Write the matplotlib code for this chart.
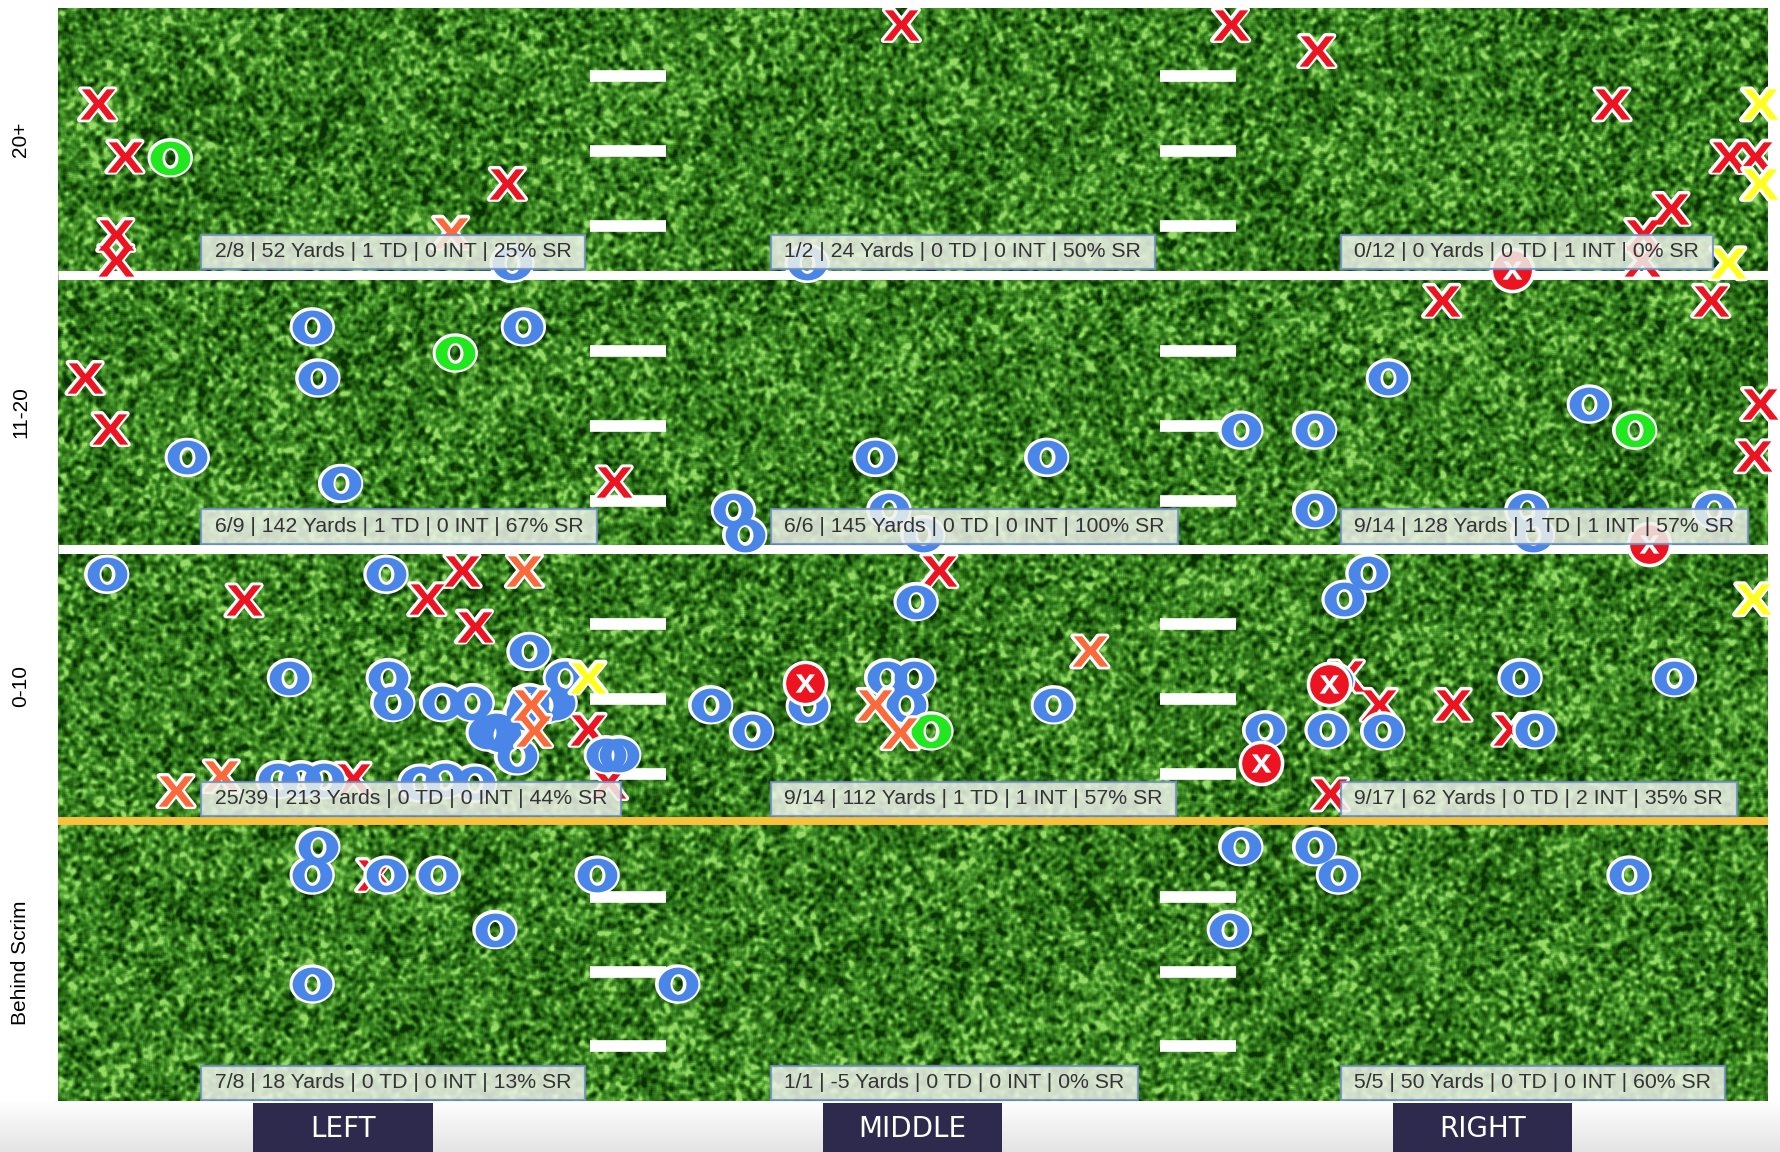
import numpy as np
import matplotlib
matplotlib.use("Agg")
import matplotlib.pyplot as plt
from matplotlib.colors import LinearSegmentedColormap
from matplotlib.font_manager import FontProperties
from matplotlib.path import Path
from matplotlib.textpath import TextPath

# field units: x runs from left sideline (51) to right sideline (1557),
# y runs downward from the top of the 20+ zone (7) to the bottom of "Behind Scrim" (970)
rows = ["20+", "11-20", "0-10", "Behind Scrim"]
cols = ["LEFT", "MIDDLE", "RIGHT"]

# zone stats, rows top->bottom, columns left/middle/right
comp = [[2, 1, 0], [6, 6, 9], [25, 9, 9], [7, 1, 5]]
att = [[8, 2, 12], [9, 6, 14], [39, 14, 17], [8, 1, 5]]
yards = [[52, 24, 0], [142, 145, 128], [213, 112, 62], [18, -5, 50]]
tds = [[1, 0, 0], [1, 0, 1], [0, 1, 0], [0, 0, 0]]
ints = [[0, 0, 1], [0, 0, 1], [0, 1, 2], [0, 0, 0]]
succ = [[25, 50, 0], [67, 100, 57], [44, 57, 35], [13, 0, 60]]

# incompletions (red X)
inc_x = [86, 110, 102, 102, 447, 794, 1084, 1160, 1420, 1523, 1546, 1472, 1447, 1446,
         1270, 1507, 75, 97, 541, 1550, 1545,
         215, 407, 376, 418, 518, 536, 311, 827, 1186, 1215, 1280, 1331, 1172,
         330]
inc_y = [92, 138, 207, 230, 162, 22, 22, 45, 92, 138, 138, 184, 207, 230,
         265, 265, 333, 378, 425, 356, 402,
         529, 503, 528, 552, 643, 690, 686, 503, 596, 621, 621, 643, 700,
         771]
# drops (orange X)
drop_x = [397, 462, 468, 470, 155, 195, 960, 771, 793]
drop_y = [205, 503, 621, 644, 697, 684, 574, 621, 646]
# throwaways / batted (yellow X)
bat_x = [1550, 1550, 1522, 518, 1544]
bat_y = [92, 162, 232, 597, 528]
# completions (blue O)
cmp_x = [451, 711,
         275, 280, 461, 165, 300, 646, 656, 771, 922, 783, 813, 1223, 1093, 1158, 1158, 1400, 1345, 1350, 1510,
         94, 340, 466, 255, 342, 346, 389, 416, 437, 430, 455, 466, 489, 498, 534, 545, 245, 265, 285, 370, 392,
         418, 480, 441, 463,
         807, 712, 626, 662, 781, 805, 798, 928,
         1205, 1184, 1339, 1475, 1114, 1169, 1218, 1352, 1174,
         280, 275, 340, 386, 526, 436, 275, 597, 1093, 1158, 1179, 1435, 1083]
cmp_y = [232, 232,
         288, 333, 288, 403, 426, 449, 471, 403, 403, 449, 471, 333, 379, 379, 449, 356, 449, 471, 449,
         506, 506, 574, 597, 597, 619, 619, 619, 643, 645, 666, 619, 619, 597, 665, 665, 687, 687, 687, 690, 687,
         690, 621, 648, 628,
         530, 622, 621, 644, 597, 597, 621, 621,
         505, 528, 597, 597, 643, 643, 644, 643, 600,
         746, 771, 771, 771, 771, 819, 867, 867, 746, 746, 771, 771, 819]
# touchdowns (green O)
td_x = [150, 401, 1440, 820]
td_y = [139, 311, 379, 644]
# interceptions
int_x = [1332, 1453, 709, 1171, 1111]
int_y = [238, 479, 602, 603, 672]

row_top = [7, 246, 488, 727]
row_bot = [238, 480, 720, 970]
col_edges = [51, 553, 1055, 1557]
hash_y = [67, 133, 199, 309, 375, 441, 550, 616, 682, 790, 856, 922]

W_PX, H_PX = 1568, 1015  # layout reference grid


def glyph(ch, stretch=1.25):
    tp = TextPath((0, 0), ch, size=1, prop=FontProperties(family="Liberation Sans", weight="bold"))
    ext = tp.get_extents()
    v = tp.vertices.copy()
    v[:, 0] = (v[:, 0] - (ext.x0 + ext.x1) / 2) * stretch
    v[:, 1] = v[:, 1] - (ext.y0 + ext.y1) / 2
    return Path(v, tp.codes)


def ring(rx=0.5, ry=0.425, hx=0.2, hy=0.26, n=80):
    t = np.linspace(0, 2 * np.pi, n)
    outer = np.column_stack([rx * np.cos(t), ry * np.sin(t)])
    inner = np.column_stack([hx * np.cos(t[::-1]), hy * np.sin(t[::-1])])
    verts = np.vstack([outer, inner])
    codes = ([Path.MOVETO] + [Path.LINETO] * (n - 2) + [Path.CLOSEPOLY]) * 2
    return Path(verts, codes)


fig = plt.figure(figsize=(17.8, 11.52), dpi=100)
fl, fr = 51 / W_PX, 1557 / W_PX
fb, ft = 1 - 970 / H_PX, 1 - 7 / H_PX

# bottom gray strip
axg = fig.add_axes([0, 0, 1, fb])
axg.imshow(np.linspace(1, 0, 50).reshape(-1, 1), cmap=LinearSegmentedColormap.from_list("g", ["#e4e4e4", "#ffffff"]),
           aspect="auto", extent=(0, 1, 0, 1), vmin=0, vmax=1)
axg.axis("off")

ax = fig.add_axes([fl, fb, fr - fl, ft - fb])

# grass texture
rng = np.random.default_rng(11)
H, W = 1100, 1710


def blur(a, k):
    out = np.zeros_like(a)
    for dy in range(-k, k + 1):
        for dx in range(-k, k + 1):
            out += np.roll(np.roll(a, dy, 0), dx, 1)
    return out / (2 * k + 1) ** 2


fine = blur(blur(rng.random((H, W)), 1), 2)
coarse = blur(np.kron(rng.random((H // 40 + 1, W // 40 + 1)), np.ones((40, 40)))[:H, :W], 10)
tex = 0.48 + (fine - fine.mean()) / fine.std() * 0.24 + (coarse - coarse.mean()) / coarse.std() * 0.05
grass = LinearSegmentedColormap.from_list("grass", ["#0a3004", "#1f5c0e", "#367f20", "#5aa936", "#98da66"])
ax.imshow(np.clip(tex, 0, 1), cmap=grass, vmin=0, vmax=1, extent=(51, 1557, 970, 7),
          aspect="auto", interpolation="antialiased", zorder=0)

# hash marks
for c in col_edges[1:3]:
    ax.hlines(hash_y, c - 33, c + 34, color="white", lw=8.4, capstyle="butt", zorder=1)

# row separators
ax.hlines([242, 484], 51, 1557, color="white", lw=6.5, zorder=1.5)
ax.hlines([723.5], 51, 1557, color="#f9c23c", lw=5.7, zorder=1.5)

# marks
X = glyph("X")
O = ring()
xs = glyph("x", 1.05)


def marks(x, y, m, color, s, z):
    ax.scatter(x, y, marker=m, s=s, facecolors="none", edgecolors="white", linewidths=4, zorder=z, clip_on=False)
    ax.scatter(x, y, marker=m, s=s, c=color, linewidths=0, zorder=z + 0.1, clip_on=False)


marks(inc_x, inc_y, X, "#ec1420", 700, 3)
marks(cmp_x, cmp_y, O, "#4a86e8", 820, 3.2)
marks(td_x, td_y, O, "#22e61e", 820, 3.4)
marks(drop_x, drop_y, X, "#fb6a3a", 700, 3.6)
marks(bat_x, bat_y, X, "#ffff1e", 700, 3.8)
ax.scatter(int_x, int_y, marker="o", s=920, c="#ec1420", edgecolors="white", linewidths=2.5, zorder=4, clip_on=False)
ax.scatter(int_x, int_y, marker=xs, s=210, c="white", linewidths=0, zorder=4.1, clip_on=False)

# zone summary boxes
for r in range(4):
    for c in range(3):
        txt = f" {comp[r][c]}/{att[r][c]} | {yards[r][c]} Yards | {tds[r][c]} TD | {ints[r][c]} INT | {succ[r][c]}% SR "
        ax.annotate(txt, xy=(col_edges[c] + 126, row_bot[r] - 1), xytext=(5.5, 5.5), textcoords="offset points",
                    ha="left", va="bottom", fontsize=15.3, family="Liberation Sans", color="#333333", zorder=6,
                    bbox=dict(boxstyle="square,pad=0.36", facecolor="#eef2ea", alpha=0.85,
                              edgecolor="#6f8fc2", linewidth=1.6))

ax.set_xlim(51, 1557)
ax.set_ylim(970, 7)
ax.set_xticks([])
ax.set_yticks([(t + b) / 2 for t, b in zip(row_top, row_bot)])
ax.set_yticklabels(rows, rotation=90, va="center", fontsize=15, family="Liberation Sans")
ax.tick_params(axis="y", length=0, pad=20)
for s in ax.spines.values():
    s.set_visible(False)

# column labels
axb = fig.add_axes([fl, 0, fr - fl, fb])
centers = [(col_edges[i] + col_edges[i + 1]) / 2 for i in range(3)]
axb.bar(centers, 43, width=158, bottom=0, color="#2e2a4d")
for cx, name in zip(centers, cols):
    axb.text(cx, 20, name, ha="center", va="center", color="white", fontsize=20, family="DejaVu Sans")
axb.set_xlim(51, 1557)
axb.set_ylim(0, 45)
axb.axis("off")

fig.savefig("out.png", dpi=100)
